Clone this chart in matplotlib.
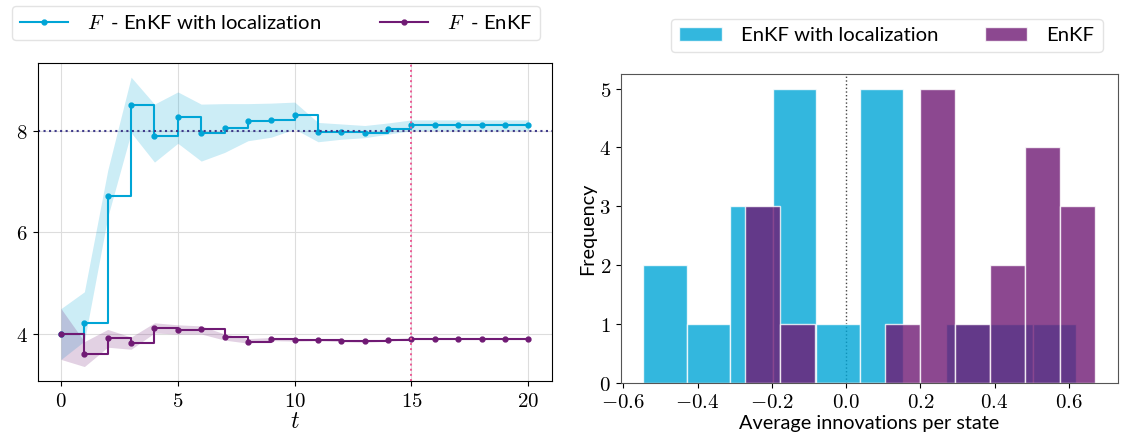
import matplotlib.pyplot as plt
import matplotlib.ticker as mticker
import numpy as np

plt.rcParams['font.family'] = ['Lato', 'DejaVu Sans']
plt.rcParams['mathtext.fontset'] = 'cm'

# left panel: estimate of F over time
t = list(range(21))
f_loc = [4.00, 4.22, 6.71, 8.51, 7.89, 8.27, 7.95, 8.05, 8.18, 8.21, 8.31,
         7.97, 7.97, 7.96, 8.03, 8.10, 8.10, 8.10, 8.10, 8.10, 8.10]
f_loc_lo = [3.50, 3.86, 6.30, 7.96, 7.38, 7.75, 7.40, 7.57, 7.80, 7.87, 8.03,
            7.78, 7.83, 7.86, 7.93, 8.00, 8.00, 8.00, 8.00, 8.00, 8.00]
f_loc_hi = [4.50, 4.83, 7.22, 9.05, 8.52, 8.76, 8.52, 8.53, 8.53, 8.54, 8.56,
            8.16, 8.13, 8.10, 8.15, 8.21, 8.21, 8.21, 8.21, 8.21, 8.21]
f_enkf = [4.00, 3.61, 3.93, 3.83, 4.11, 4.07, 4.09, 3.94, 3.85, 3.90, 3.88,
          3.89, 3.87, 3.86, 3.88, 3.91, 3.91, 3.91, 3.91, 3.91, 3.91]
f_enkf_lo = [3.50, 3.36, 3.74, 3.70, 4.02, 4.00, 4.00, 3.88, 3.82, 3.87, 3.86,
             3.87, 3.85, 3.84, 3.86, 3.89, 3.89, 3.89, 3.89, 3.89, 3.89]
f_enkf_hi = [4.50, 3.85, 4.09, 3.94, 4.22, 4.18, 4.16, 4.00, 3.91, 3.93, 3.91,
             3.91, 3.89, 3.88, 3.90, 3.93, 3.93, 3.93, 3.93, 3.93, 3.93]
f_true = 8
t_stop = 15

# right panel: histograms of average innovations
loc_range = [-0.5465, 0.620]
loc_counts = [2, 1, 3, 5, 1, 5, 0, 1, 1, 1]
enkf_range = [-0.272, 0.671]
enkf_counts = [3, 1, 0, 0, 1, 5, 1, 2, 4, 3]

c_loc = '#00a5d6'
c_enkf = '#701a74'

fig = plt.figure(figsize=(11.24, 4.37), dpi=100)
ax1 = fig.add_axes([0.0335, 0.1281, 0.4573, 0.7284])
ax2 = fig.add_axes([0.5522, 0.1243, 0.4422, 0.7064])

math_fmt = mticker.FuncFormatter(lambda v, p: r'$%g$' % v)

# ---- left
ax1.fill_between(t, f_loc_lo, f_loc_hi, color=c_loc, alpha=0.2, lw=0)
ax1.fill_between(t, f_enkf_lo, f_enkf_hi, color=c_enkf, alpha=0.2, lw=0)
l1, = ax1.plot(t, f_loc, drawstyle='steps-post', marker='o', ms=3.5,
               color=c_loc, lw=1.5, label=r'$F$  - EnKF with localization')
l2, = ax1.plot(t, f_enkf, drawstyle='steps-post', marker='o', ms=3.5,
               color=c_enkf, lw=1.5, label=r'$F$  - EnKF')
ax1.axhline(f_true, color='#3f3a8a', ls=':', lw=1.5)
ax1.axvline(t_stop, color='#ec5a95', ls=':', lw=1.4)
ax1.grid(True, color='#dddddd', lw=0.8)
ax1.set_axisbelow(True)
ax1.set_xticks([0, 5, 10, 15, 20])
ax1.set_yticks([4, 6, 8])
ax1.xaxis.set_major_formatter(math_fmt)
ax1.yaxis.set_major_formatter(math_fmt)
ax1.tick_params(labelsize=15)
ax1.set_xlabel(r'$t$', fontsize=17, labelpad=0)

fig.legend(handles=[l1, l2], loc='upper left', bbox_to_anchor=(0.011, 0.987),
           ncol=2, fontsize=14.6, handlelength=2.35, handletextpad=0.94,
           columnspacing=2.9, borderaxespad=0, edgecolor='#dddddd')

# ---- right
ax2.axvline(0, color='#444444', ls=':', lw=1, zorder=0.9)
ax2.hist(np.linspace(*loc_range, 11)[:-1] + 0.01, bins=np.linspace(*loc_range, 11),
         weights=loc_counts, color=c_loc, alpha=0.8, edgecolor='white', lw=1,
         label='EnKF with localization')
ax2.hist(np.linspace(*enkf_range, 11)[:-1] + 0.01, bins=np.linspace(*enkf_range, 11),
         weights=enkf_counts, color=c_enkf, alpha=0.8, edgecolor='white', lw=1,
         label='EnKF')
ax2.set_xticks([-0.6, -0.4, -0.2, 0.0, 0.2, 0.4, 0.6])
ax2.xaxis.set_major_formatter(mticker.FuncFormatter(lambda v, p: r'$%.1f$' % v))
ax2.yaxis.set_major_formatter(math_fmt)
ax2.tick_params(labelsize=15)
for s in ax2.spines.values():
    s.set_color('#555555')
ax2.set_xlabel('Average innovations per state', fontsize=14.3, labelpad=2)
ax2.set_ylabel('Frequency', fontsize=14.3, labelpad=2)
fig.legend(*ax2.get_legend_handles_labels(), loc='upper left',
           bbox_to_anchor=(0.597, 0.957), ncol=2, fontsize=14.6,
           handlelength=2.1, handletextpad=0.94, columnspacing=2.3,
           borderaxespad=0, edgecolor='#dddddd')

fig.savefig('out.png', dpi=100)
